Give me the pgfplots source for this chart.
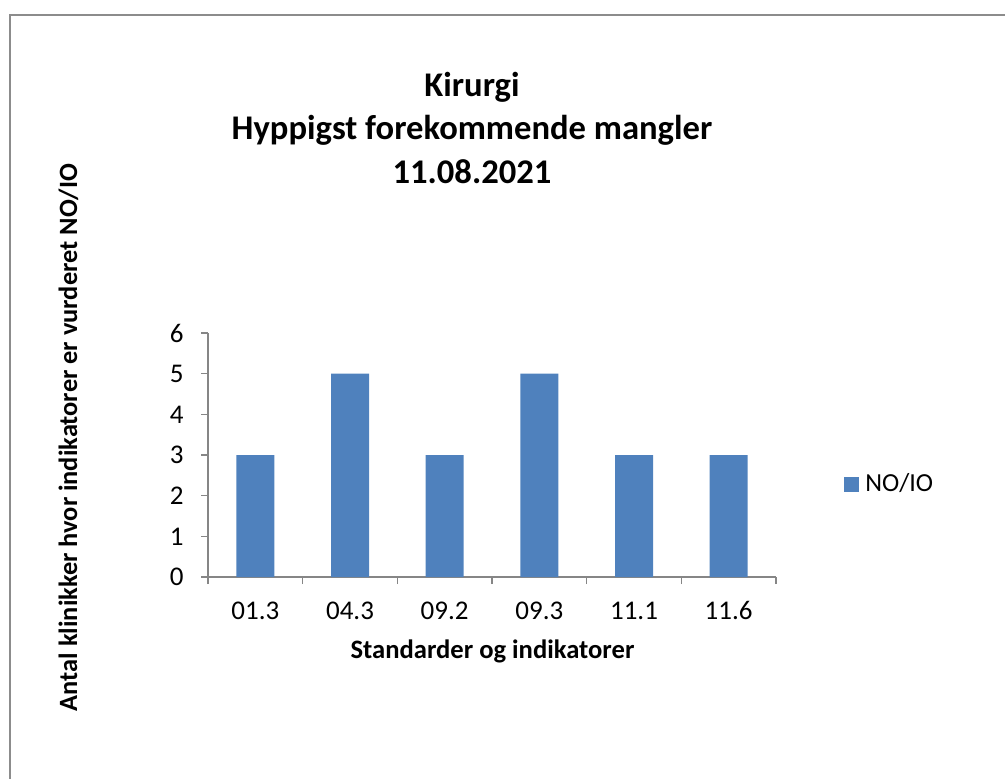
\documentclass[border=0pt]{standalone}
\usepackage{fontspec}
\setmainfont{Carlito}
\usepackage{pgfplots}
\pgfplotsset{compat=1.18}
\definecolor{barblue}{HTML}{4F81BD}
\definecolor{axisgray}{HTML}{868686}
\definecolor{framegray}{HTML}{8C8C8C}

\begin{document}
\begin{tikzpicture}
% page: 1005 x 778 px, 1 px = 0.5 pt
\useasboundingbox (0,0) rectangle (502.5pt,389pt);
\draw[framegray, line width=1pt] (4.75pt,-2pt) -- (4.75pt,381.25pt) -- (505pt,381.25pt);

% title
\node[anchor=base, font=\fontsize{17.3}{21}\selectfont\bfseries] at (236pt,340.5pt) {Kirurgi};
\node[anchor=base, font=\fontsize{17.3}{21}\selectfont\bfseries] at (236pt,319.5pt) {Hyppigst forekommende mangler};
\node[anchor=base, font=\fontsize{17.3}{21}\selectfont\bfseries] at (236pt,297.5pt) {11.08.2021};

% axis titles
\node[anchor=base, font=\fontsize{13.3}{16}\selectfont\bfseries] at (246.25pt,60pt) {Standarder og indikatorer};
\node[anchor=base, rotate=90, font=\fontsize{13.2}{16}\selectfont\bfseries] at (38.5pt,170.25pt) {Antal klinikker hvor indikatorer er vurderet NO/IO};

\begin{axis}[
  at={(104pt,100.5pt)}, anchor=south west,
  scale only axis,
  width=284pt, height=122pt,
  xmin=-0.5, xmax=5.5,
  ymin=0, ymax=6,
  axis x line*=bottom, axis y line*=left,
  axis line style={axisgray, line width=0.6pt},
  xtick={0,...,5},
  xticklabels={01.3,04.3,09.2,09.3,11.1,11.6},
  minor xtick={-0.5,0.5,...,5.5},
  ytick={0,...,6},
  tick align=outside,
  major tick length=3.5pt, minor tick length=3.5pt,
  major x tick style={draw=none},
  minor x tick style={axisgray, line width=0.6pt},
  major y tick style={axisgray, line width=0.6pt},
  ticklabel style={font=\fontsize{13.5}{15}\selectfont},
  /pgf/number format/assume math mode=true,
  yticklabel style={inner sep=0pt, xshift=-8.5pt},
  xticklabel style={inner sep=0pt, anchor=base, yshift=-17.5pt},
  ybar, bar width=19pt,
  legend style={at={(1.1197,0.381)}, anchor=west, draw=none, fill=none,
    inner sep=0pt, column sep=1pt, font=\fontsize{13}{15}\selectfont, legend cell align=left},
  legend image code/.code={\fill[barblue] (0pt,-3.75pt) rectangle (7.5pt,3.75pt);},
]
\addplot[fill=barblue, draw=none] coordinates {
  (0,3) (1,5) (2,3) (3,5) (4,3) (5,3)
};
\addlegendentry{NO/IO}
\end{axis}
\end{tikzpicture}
\end{document}
